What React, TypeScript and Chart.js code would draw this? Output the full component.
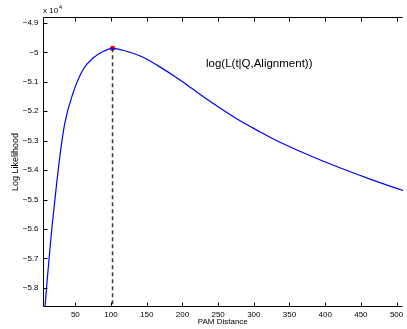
import React, { useEffect, useRef } from "react";
import { Chart, registerables } from "chart.js";

Chart.register(...registerables);

// PAM distance (x) and log likelihood in units of 1e4 (y)
const pamDistance = [7.5, 10, 13.4, 17, 21.3, 28.2, 35.2, 46.7, 60.5, 74.4, 88.2, 102.1, 120.6, 143.6, 166, 190, 213, 236, 259, 282, 305, 328, 375, 416, 460, 500, 509];
const logLik = [-5.865, -5.79, -5.695, -5.6, -5.502, -5.355, -5.241, -5.139, -5.06, -5.02, -4.998, -4.9864, -4.9956, -5.015, -5.046, -5.083, -5.122, -5.162, -5.199, -5.234, -5.265, -5.295, -5.347, -5.388, -5.428, -5.462, -5.469];

const peakX = 102.1;
const peakY = -4.9864;

const xTicks = [50, 100, 150, 200, 250, 300, 350, 400, 450, 500];
const yTicks = [-5.8, -5.7, -5.6, -5.5, -5.4, -5.3, -5.2, -5.1, -5.0, -4.9];

const xMin = 4;
const xMax = 509;
const yMin = -5.865;
const yMax = -4.88;

const annotationText = "log(L(t|Q,Alignment))";
const annotationX = 233;
const annotationY = -5.04;

const FONT = "'Liberation Sans', Arial, Helvetica, sans-serif";

const fmtY = (v: number) => {
  const s = String(Number(v.toFixed(1)));
  return s.replace("-", "\u2212");
};

const matlabBox = {
  id: "matlabBox",
  afterDraw(chart: any) {
    const { ctx, chartArea } = chart;
    const xs = chart.scales.x;
    const ys = chart.scales.y;
    const l = Math.round(chartArea.left) + 0.5;
    const r = Math.round(chartArea.right) - 0.5;
    const t = Math.round(chartArea.top) + 0.5;
    const b = Math.round(chartArea.bottom) - 0.5;
    ctx.save();
    ctx.strokeStyle = "#000";
    ctx.lineWidth = 1;
    ctx.beginPath();
    ctx.moveTo(l, t);
    ctx.lineTo(r, t);
    ctx.moveTo(l, b);
    ctx.lineTo(r, b);
    ctx.moveTo(l, t);
    ctx.lineTo(l, b);
    const tl = 4;
    xTicks.forEach((v) => {
      const px = Math.round(xs.getPixelForValue(v)) + 0.5;
      ctx.moveTo(px, b);
      ctx.lineTo(px, b - tl);
      ctx.moveTo(px, t);
      ctx.lineTo(px, t + tl);
    });
    yTicks.forEach((v) => {
      const py = Math.round(ys.getPixelForValue(v)) + 0.5;
      ctx.moveTo(l, py);
      ctx.lineTo(l + tl, py);
    });
    ctx.stroke();

    // exponent label
    ctx.fillStyle = "#000";
    ctx.textBaseline = "middle";
    ctx.textAlign = "left";
    ctx.font = `8px ${FONT}`;
    ctx.fillText("x 10", l - 0.5, 11);
    const w = ctx.measureText("x 10").width;
    ctx.font = `5.5px ${FONT}`;
    ctx.fillText("4", l + w + 0.5, 7.5);

    // annotation
    ctx.font = `11.5px ${FONT}`;
    ctx.fillStyle = "#000";
    ctx.fillText(annotationText, xs.getPixelForValue(annotationX), ys.getPixelForValue(annotationY));
    ctx.restore();
  },
};

export default function App() {
  const ref = useRef<HTMLCanvasElement>(null);
  useEffect(() => {
    document.body.style.margin = "0";
    const canvas = ref.current!;
    const chart = new Chart(canvas, {
      type: "line",
      data: {
        datasets: [
          {
            data: pamDistance.map((x, i) => ({ x, y: logLik[i] })),
            borderColor: "#0000ff",
            borderWidth: 1.2,
            pointRadius: 0,
            cubicInterpolationMode: "monotone",
            fill: false,
          },
          {
            data: [
              { x: peakX, y: peakY },
              { x: peakX, y: yMin },
            ],
            borderColor: "#3a3a3a",
            borderWidth: 1.5,
            borderDash: [4, 3],
            pointRadius: 0,
            fill: false,
          },
          {
            data: [{ x: peakX, y: peakY }],
            showLine: false,
            pointRadius: 2.6,
            pointBackgroundColor: "#ee0000",
            pointBorderColor: "#ee0000",
            pointBorderWidth: 0,
          },
        ],
      },
      options: {
        animation: false,
        responsive: false,
        devicePixelRatio: 1,
        events: [],
        layout: { padding: { left: 0, right: 0, top: 17, bottom: 0 } },
        plugins: {
          legend: { display: false },
          tooltip: { enabled: false },
          title: { display: false },
        },
        scales: {
          x: {
            type: "linear",
            min: xMin,
            max: xMax,
            border: { display: false },
            grid: { display: false, drawTicks: false },
            afterBuildTicks: (s: any) => {
              s.ticks = xTicks.map((v) => ({ value: v }));
            },
            afterFit: (s: any) => {
              s.height = 22;
              s.paddingLeft = 0;
              s.paddingRight = 0;
            },
            ticks: {
              autoSkip: false,
              maxRotation: 0,
              padding: 3,
              color: "#000",
              font: { family: FONT, size: 8 },
              callback: (v: any) => String(v),
            },
            title: {
              display: true,
              text: "PAM Distance",
              color: "#000",
              font: { family: FONT, size: 8 },
              padding: { top: 0, bottom: 2 },
            },
          },
          y: {
            type: "linear",
            min: yMin,
            max: yMax,
            border: { display: false },
            grid: { display: false, drawTicks: false },
            afterBuildTicks: (s: any) => {
              s.ticks = yTicks.map((v) => ({ value: v }));
            },
            afterFit: (s: any) => {
              s.width = 42.5;
              s.paddingTop = 0;
              s.paddingBottom = 0;
            },
            ticks: {
              autoSkip: false,
              padding: 4,
              color: "#000",
              font: { family: FONT, size: 8 },
              callback: (v: any) => fmtY(Number(v)),
            },
            title: {
              display: true,
              text: "Log Likelihood",
              color: "#000",
              font: { family: FONT, size: 9 },
              padding: { top: 10.5, bottom: 0 },
            },
          },
        },
      },
      plugins: [matlabBox],
    } as any);
    return () => chart.destroy();
  }, []);
  return <canvas ref={ref} width={407} height={329} style={{ display: "block" }} />;
}
